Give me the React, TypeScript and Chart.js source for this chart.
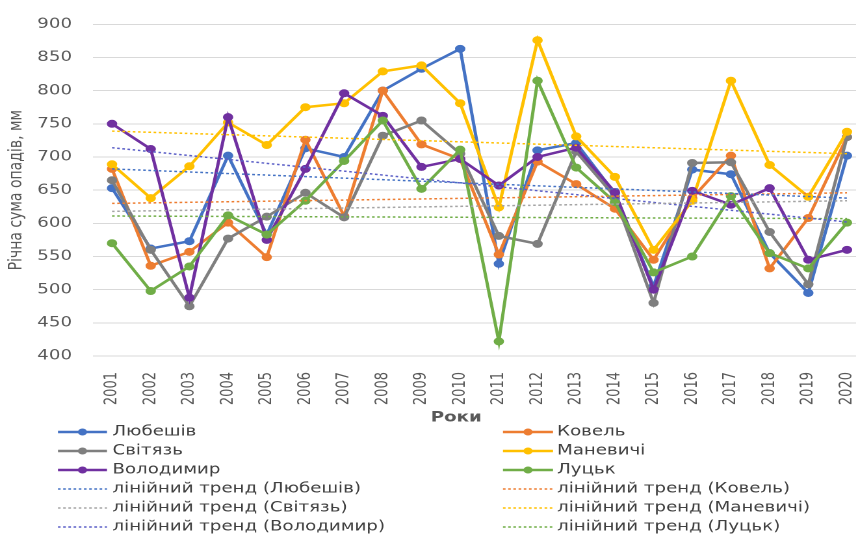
import React, { useEffect, useRef } from "react";
import { Chart, registerables } from "chart.js";
Chart.register(...registerables);

// ---- data ----
const years = ["2001","2002","2003","2004","2005","2006","2007","2008","2009","2010","2011","2012","2013","2014","2015","2016","2017","2018","2019","2020"];
const lyubeshiv = [653,562,573,702,583,713,700,800,833,863,539,710,721,645,505,681,674,555,495,702];
const kovel     = [682,536,557,601,549,726,611,800,719,697,553,693,659,622,545,638,702,532,608,730];
const svityaz   = [665,560,475,577,610,646,609,732,755,705,581,569,708,640,480,691,692,587,508,730];
const manevychi = [689,638,686,752,718,775,781,829,838,781,624,876,731,670,560,634,815,688,640,738];
const volodymyr = [750,712,488,760,575,682,796,762,685,697,657,700,714,647,500,649,628,653,545,560];
const lutsk     = [570,498,535,612,583,634,694,755,652,711,422,815,684,632,526,550,641,555,532,601];
// linear trend endpoints (2001, 2020)
const trendLyubeshiv = [682, 638];
const trendKovel = [630, 646];
const trendSvityaz = [618, 634];
const trendManevychi = [739, 705];
const trendVolodymyr = [714, 602];
const trendLutsk = [611, 607];
const yTicks = [400, 450, 500, 550, 600, 650, 700, 750, 800, 850, 900];

const seriesNames = ["Любешів", "Ковель", "Світязь", "Маневичі", "Володимир", "Луцьк"];
const seriesData = [lyubeshiv, kovel, svityaz, manevychi, volodymyr, lutsk];
const trendData = [trendLyubeshiv, trendKovel, trendSvityaz, trendManevychi, trendVolodymyr, trendLutsk];
const seriesColors = ["#4472C4", "#ED7D31", "#7F7F7F", "#FFC000", "#7030A0", "#70AD47"];
const trendColors = ["#4472C4", "#ED7D31", "#A5A5A5", "#FFC000", "#5B5FC7", "#70AD47"];

const S = 1.3; // horizontal stretch of the picture
const CW = 680;
const CH = 536;
const FONT = "'DejaVu Sans', sans-serif";

function trendSeries(ends: number[]) {
  return years.map((_, i) => (i === 0 ? ends[0] : i === years.length - 1 ? ends[1] : null));
}

const legendPlugin = {
  id: "customLegend",
  afterDraw(chart: any) {
    const ctx = chart.ctx;
    ctx.save();
    // x axis title
    ctx.font = `bold 14px ${FONT}`;
    ctx.fillStyle = "#595959";
    ctx.textAlign = "center";
    ctx.textBaseline = "middle";
    ctx.fillText("Роки", 351, 418);

    const ds = chart.data.datasets;
    const cols = [
      { x1: 44.6, x2: 82.3, tx: 86.5 },
      { x1: 386.9, x2: 425.4, tx: 428.5 },
    ];
    ctx.font = `14px ${FONT}`;
    ctx.textAlign = "left";
    ds.forEach((d: any, k: number) => {
      const row = Math.floor(k / 2);
      const c = cols[k % 2];
      const y = 432 + row * 19;
      ctx.strokeStyle = d.borderColor;
      ctx.lineWidth = d.borderWidth;
      ctx.setLineDash(d.borderDash || []);
      ctx.beginPath();
      ctx.moveTo(c.x1, y);
      ctx.lineTo(c.x2, y);
      ctx.stroke();
      ctx.setLineDash([]);
      if (d.pointRadius > 0) {
        ctx.fillStyle = d.borderColor;
        ctx.beginPath();
        ctx.arc((c.x1 + c.x2) / 2, y, d.pointRadius, 0, Math.PI * 2);
        ctx.fill();
      }
      ctx.fillStyle = "#404040";
      ctx.fillText(d.label, c.tx, y);
    });
    ctx.restore();
  },
};

export default function App() {
  const ref = useRef<HTMLCanvasElement>(null);
  useEffect(() => {
    const datasets: any[] = [];
    seriesNames.forEach((name, i) => {
      datasets.push({
        label: name,
        data: seriesData[i],
        borderColor: seriesColors[i],
        backgroundColor: seriesColors[i],
        pointBackgroundColor: seriesColors[i],
        pointBorderColor: seriesColors[i],
        borderWidth: 2.5,
        pointRadius: 3.5,
        pointBorderWidth: 1,
        tension: 0,
        order: 6 - i,
      });
    });
    seriesNames.forEach((name, i) => {
      datasets.push({
        label: `лінійний тренд (${name})`,
        data: trendSeries(trendData[i]),
        borderColor: trendColors[i],
        backgroundColor: trendColors[i],
        borderWidth: 1.5,
        borderDash: [2, 2],
        pointRadius: 0,
        spanGaps: true,
        tension: 0,
        order: 0,
      });
    });

    const chart = new Chart(ref.current!, {
      type: "line",
      data: { labels: years, datasets },
      options: {
        animation: false,
        responsive: false,
        devicePixelRatio: 2,
        layout: { padding: { top: 22.7, right: CW - 666.4, bottom: 0, left: 0 } },
        scales: {
          x: {
            type: "category",
            offset: true,
            grid: { display: false },
            border: { display: false },
            ticks: {
              autoSkip: false,
              minRotation: 90,
              maxRotation: 90,
              padding: 8,
              color: "#595959",
              font: { family: FONT, size: 13 },
            },
            afterFit: (scale: any) => {
              scale.height = CH - 356;
            },
          },
          y: {
            min: 400,
            max: 900,
            afterBuildTicks: (scale: any) => {
              scale.ticks = yTicks.map((v) => ({ value: v }));
            },
            grid: { color: "#D9D9D9", lineWidth: 1, drawTicks: false },
            border: { display: false },
            ticks: {
              padding: 15.9,
              color: "#595959",
              font: { family: FONT, size: 14 },
            },
            title: {
              display: true,
              text: "Річна сума опадів, мм",
              color: "#595959",
              font: { family: FONT, size: 14 },
              padding: { top: 4.3, bottom: 0 },
            },
            afterFit: (scale: any) => {
              scale.width = 71.3;
            },
          },
        },
        plugins: {
          legend: { display: false },
          tooltip: { enabled: false },
        },
      },
      plugins: [legendPlugin],
    });
    return () => chart.destroy();
  }, []);

  return (
    <div
      style={{
        position: "fixed",
        left: 0,
        top: 0,
        width: 856,
        height: 536,
        overflow: "hidden",
        background: "#fff",
      }}
    >
      <div style={{ width: CW, height: CH, transform: `scaleX(${S})`, transformOrigin: "0 0" }}>
        <canvas ref={ref} width={CW} height={CH} style={{ display: "block", width: CW, height: CH }} />
      </div>
    </div>
  );
}
